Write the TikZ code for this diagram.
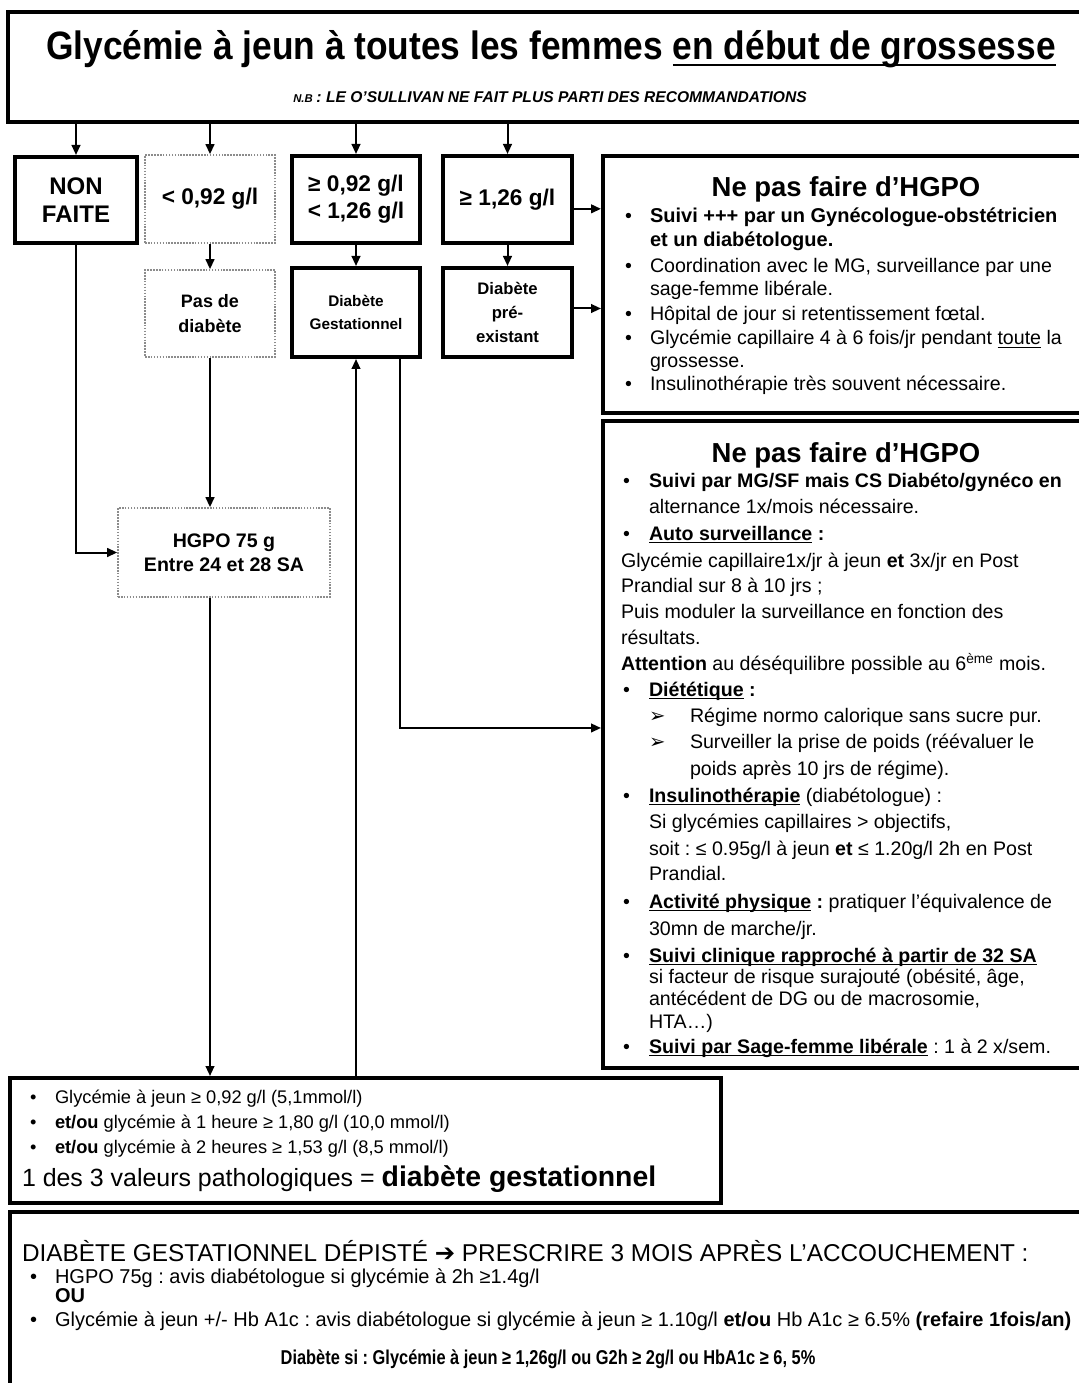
\documentclass[tikz,border=0pt]{standalone}
\usepackage{fontspec}
\setmainfont{Liberation Sans}
\newfontfamily\symfont{DejaVu Sans}
\newfontfamily\narrowfont[FakeStretch=0.82]{Liberation Sans}
\usetikzlibrary{arrows.meta}
\frenchspacing
\newcommand\fsz[2]{\fontsize{#1}{#2}\selectfont}
\newcommand\ul[1]{\leavevmode\setbox0=\hbox{#1}\rlap{\rule[-0.16em]{\wd0}{0.07em}}\box0\relax}
\newcommand\tl[4]{\node[ln] (#1) at (#2,#3) {#4};}
\tikzset{
  thickbox/.style={draw, line width=3pt, inner sep=0pt, align=center},
  dotbox/.style={draw=black!45, line width=1.2pt, densely dotted, inner sep=0pt, align=center},
  bigbox/.style={draw, line width=3pt, inner sep=0pt},
  arr/.style={line width=1.5pt, -{Triangle[length=7.5pt,width=6.5pt]}},
  ln/.style={anchor=base west, inner sep=0pt, outer sep=0pt},
}
\begin{document}
\begin{tikzpicture}[x=0.75pt,y=-0.75pt]
\useasboundingbox (0,0) rectangle (1078,1383);
\fill[white] (0,0) rectangle (1078,1383);

% ---------- boxes ----------
\node[bigbox, minimum width=811.5pt, minimum height=82.5pt] (top) at (549,67) {};
\node[thickbox, minimum width=91.5pt, minimum height=64.5pt, font=\fsz{18}{21}\bfseries] (nonfaite) at (76,200) {NON\\FAITE};
\node[dotbox, minimum width=97.5pt, minimum height=66pt, font=\fsz{17}{20}\bfseries] (lt) at (210,199) {< 0,92 g/l};
\node[thickbox, minimum width=96pt, minimum height=65.25pt, font=\fsz{17}{20}\bfseries] (mid) at (356,199.5) {≥ 0,92 g/l\\< 1,26 g/l};
\node[thickbox, minimum width=96.75pt, minimum height=65.25pt, font=\fsz{17}{20}\bfseries] (ge) at (507.5,199.5) {≥ 1,26 g/l};
\node[dotbox, minimum width=97.5pt, minimum height=65.25pt, font=\fsz{13.5}{19}\bfseries] (pas) at (210,313.5) {Pas de\\diabète};
\node[thickbox, minimum width=96pt, minimum height=66.75pt, font=\fsz{11.5}{17}\bfseries] (dg) at (356,312.5) {Diabète\\Gestationnel};
\node[thickbox, minimum width=96.75pt, minimum height=66.75pt, font=\fsz{12.5}{18}\bfseries] (pre) at (507.5,312.5) {Diabète\\pré-\\existant};
\node[dotbox, minimum width=159pt, minimum height=66.75pt, font=\fsz{14.7}{18}\bfseries] (hgpo) at (224,552.5) {HGPO 75 g\\Entre 24 et 28 SA};
\node[bigbox, minimum width=366.75pt, minimum height=192.75pt] (box1) at (847.5,284.5) {};
\node[bigbox, minimum width=366.75pt, minimum height=485.25pt] (box2) at (847.5,744.5) {};
\node[bigbox, minimum width=533.25pt, minimum height=93.75pt] (res) at (365.5,1140.5) {};
\node[bigbox, minimum width=811.5pt, minimum height=137.25pt] (post) at (551,1303.5) {};

% ---------- connectors ----------
\draw[arr] (top.south -| nonfaite.north) -- (nonfaite.north);
\draw[arr] (top.south -| lt.north) -- (lt.north);
\draw[arr] (top.south -| mid.north) -- (mid.north);
\draw[arr] (top.south -| ge.north) -- (ge.north);
\draw[arr] (lt.south) -- (pas.north);
\draw[arr] (mid.south) -- (dg.north);
\draw[arr] (ge.south) -- (pre.north);
\draw[arr] ([yshift=-7pt]ge.east) -- ([yshift=-7pt]ge.east -| box1.west);
\draw[arr] ([yshift=3pt]pre.east) -- ([yshift=3pt]pre.east -| box1.west);
\draw[arr] (nonfaite.south) |- (hgpo.west);
\draw[arr] (pas.south) -- (pas.south |- hgpo.north);
\draw[arr] (pas.south |- hgpo.south) -- (pas.south |- res.north);
\draw[arr] (dg.south |- res.north) -- (dg.south);
\draw[arr] ([xshift=33pt]dg.south) |- ([yshift=12.4pt]box2.west);

% ---------- header texts ----------
\node[anchor=base, inner sep=0pt] (title) at (551,60) {\fsz{26.5}{30}\bfseries\scalebox{1}[1.12]{Glycémie à jeun à toutes les femmes \ul{en début de grossesse}}};
\node[anchor=base, inner sep=0pt] (nb) at (550,103) {\bfseries\itshape{\fsz{8.5}{10}N.B} \fsz{11.7}{13}: LE O’SULLIVAN NE FAIT PLUS PARTI DES RECOMMANDATIONS};

% ---------- box 1 ----------
\node[anchor=base, inner sep=0pt] (b1title) at (846,197) {\fsz{20.6}{24}\bfseries Ne pas faire d’HGPO};
\begin{scope}[every node/.append style={font=\fsz{14.7}{17}}]
\tl{a1b}{625}{223}{•}
\tl{a1}{650}{223}{\fsz{15}{17}\bfseries Suivi +++ par un Gynécologue-obstétricien}
\tl{a2}{650}{247}{\fsz{15}{17}\bfseries et un diabétologue.}
\tl{a3b}{625}{273}{•}
\tl{a3}{650}{273}{Coordination avec le MG, surveillance par une}
\tl{a4}{650}{296}{sage-femme libérale.}
\tl{a5b}{625}{321}{•}
\tl{a5}{650}{321}{Hôpital de jour si retentissement fœtal.}
\tl{a6b}{625}{345}{•}
\tl{a6}{650}{345}{Glycémie capillaire 4 à 6 fois/jr pendant \ul{toute} la}
\tl{a7}{650}{368}{grossesse.}
\tl{a8b}{625}{391}{•}
\tl{a8}{650}{391}{Insulinothérapie très souvent nécessaire.}
\end{scope}

% ---------- box 2 ----------
\node[anchor=base, inner sep=0pt] (b2title) at (846,462) {\fsz{20.6}{24}\bfseries Ne pas faire d’HGPO};
\begin{scope}[every node/.append style={font=\fsz{14.7}{17}}]
\tl{c1b}{623}{487}{•}
\tl{c1}{649}{487}{\bfseries Suivi par MG/SF mais CS Diabéto/gynéco en}
\tl{c2}{649}{513}{alternance 1x/mois nécessaire.}
\tl{c3b}{623}{540}{•}
\tl{c3}{649}{540}{\bfseries\ul{Auto surveillance} :}
\tl{c4}{621}{567}{Glycémie capillaire1x/jr à jeun \textbf{et} 3x/jr en Post}
\tl{c5}{621}{592}{Prandial sur 8 à 10 jrs ;}
\tl{c6}{621}{618}{Puis moduler la surveillance en fonction des}
\tl{c7}{621}{644}{résultats.}
\tl{c8}{621}{670}{\textbf{Attention} au déséquilibre possible au 6\textsuperscript{ème} mois.}
\tl{c9b}{623}{696}{•}
\tl{c9}{649}{696}{\bfseries\ul{Diététique} :}
\tl{c10a}{649}{722}{\symfont ➢}
\tl{c10}{690}{722}{Régime normo calorique sans sucre pur.}
\tl{c11a}{649}{748}{\symfont ➢}
\tl{c11}{690}{748}{Surveiller la prise de poids (réévaluer le}
\tl{c12}{690}{775}{poids après 10 jrs de régime).}
\tl{c13b}{623}{802}{•}
\tl{c13}{649}{802}{\textbf{\ul{Insulinothérapie}} (diabétologue) :}
\tl{c14}{649}{828}{Si glycémies capillaires > objectifs,}
\tl{c15}{649}{855}{soit : ≤ 0.95g/l à jeun \textbf{et} ≤ 1.20g/l 2h en Post}
\tl{c16}{649}{880}{Prandial.}
\tl{c17b}{623}{908}{•}
\tl{c17}{649}{908}{\textbf{\ul{Activité physique} :} pratiquer l’équivalence de}
\tl{c18}{649}{935}{30mn de marche/jr.}
\tl{c19b}{623}{962}{•}
\tl{c19}{649}{962}{\bfseries\ul{Suivi clinique rapproché à partir de 32 SA}}
\tl{c20}{649}{983}{si facteur de risque surajouté (obésité, âge,}
\tl{c21}{649}{1005}{antécédent de DG ou de macrosomie,}
\tl{c22}{649}{1028}{HTA…)}
\tl{c23b}{623}{1053}{•}
\tl{c23}{649}{1053}{\textbf{\ul{Suivi par Sage-femme libérale}} : 1 à 2 x/sem.}
\end{scope}

% ---------- result box ----------
\begin{scope}[every node/.append style={font=\fsz{13.7}{16}}]
\tl{r1b}{30}{1103}{•}
\tl{r1}{55}{1103}{Glycémie à jeun ≥ 0,92 g/l (5,1mmol/l)}
\tl{r2b}{30}{1128}{•}
\tl{r2}{55}{1128}{\textbf{et/ou} glycémie à 1 heure ≥ 1,80 g/l (10,0 mmol/l)}
\tl{r3b}{30}{1153}{•}
\tl{r3}{55}{1153}{\textbf{et/ou} glycémie à 2 heures ≥ 1,53 g/l (8,5 mmol/l)}
\end{scope}
\tl{r4}{22}{1186}{\fsz{18.7}{22}1 des 3 valeurs pathologiques = {\fsz{21.3}{24}\bfseries diabète gestationnel}}

% ---------- post-partum box ----------
\tl{p1}{22}{1261}{\fsz{18.25}{21}DIABÈTE GESTATIONNEL DÉPISTÉ {\symfont\bfseries ➔} PRESCRIRE 3 MOIS APRÈS L’ACCOUCHEMENT :}
\begin{scope}[every node/.append style={font=\fsz{15}{17}}]
\tl{p2b}{30}{1283}{•}
\tl{p2}{55}{1283}{HGPO 75g : avis diabétologue si glycémie à 2h ≥1.4g/l}
\tl{p3}{55}{1302}{\bfseries OU}
\tl{p4b}{30}{1326}{•}
\tl{p4}{55}{1326}{Glycémie à jeun +/- Hb A1c : avis diabétologue si glycémie à jeun ≥ 1.10g/l \textbf{et/ou} Hb A1c ≥ 6.5\% \textbf{(refaire 1fois/an)}}
\end{scope}
\node[anchor=base, inner sep=0pt] (p5) at (548,1364) {\narrowfont\bfseries\fsz{15}{18}Diabète si : Glycémie à jeun ≥ 1,26g/l ou G2h ≥ 2g/l ou HbA1c ≥ 6, 5\%};
\end{tikzpicture}
\end{document}
